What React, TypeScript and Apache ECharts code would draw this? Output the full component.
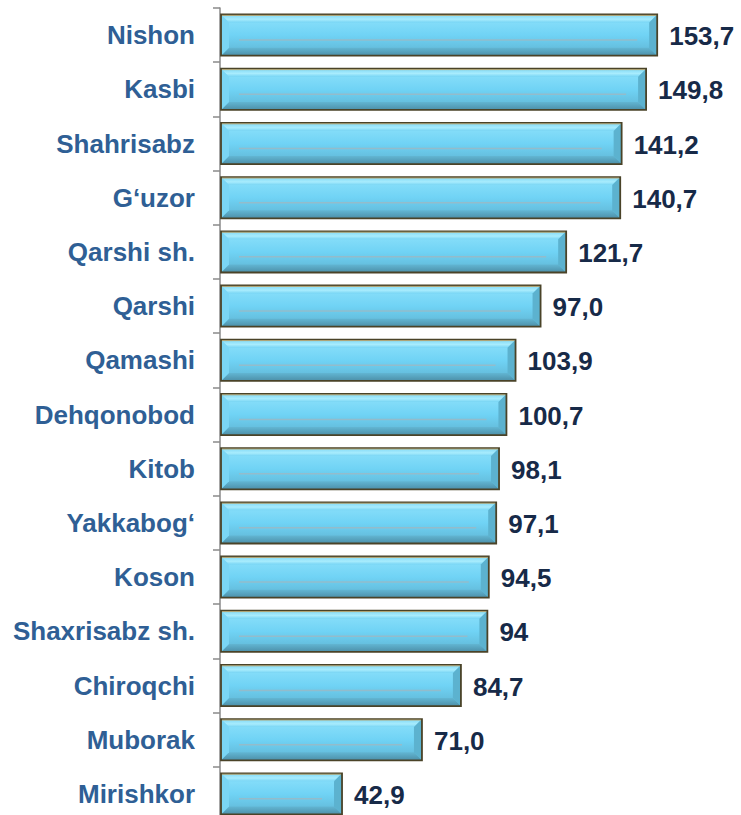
import React, { useEffect, useRef } from "react";
import * as echarts from "echarts";

const categories = [
  "Nishon",
  "Kasbi",
  "Shahrisabz",
  "G‘uzor",
  "Qarshi sh.",
  "Qarshi",
  "Qamashi",
  "Dehqonobod",
  "Kitob",
  "Yakkabog‘",
  "Koson",
  "Shaxrisabz sh.",
  "Chiroqchi",
  "Muborak",
  "Mirishkor",
];
// bar lengths as drawn in the reference
const values = [153.7, 149.8, 141.2, 140.7, 121.7, 112.7, 103.9, 100.7, 98.1, 97.1, 94.5, 94, 84.7, 71.0, 42.9];
// printed value labels
const valueLabels = ["153,7", "149,8", "141,2", "140,7", "121,7", "97,0", "103,9", "100,7", "98,1", "97,1", "94,5", "94", "84,7", "71,0", "42,9"];

export default function App() {
  const ref = useRef<HTMLDivElement>(null);
  useEffect(() => {
    if (!ref.current) return;
    const chart = echarts.init(ref.current, undefined, { renderer: "svg" });
    const font = '"Liberation Sans", Arial, sans-serif';
    chart.setOption({
      animation: false,
      grid: { left: 220, right: 9, top: 8, bottom: 9 },
      xAxis: { type: "value", min: 0, max: 180, show: false },
      yAxis: {
        type: "category",
        data: categories,
        inverse: true,
        axisLine: { show: true, lineStyle: { color: "#8a8a8a", width: 1.5 } },
        axisTick: { show: true, length: 7, lineStyle: { color: "#8a8a8a", width: 1.5 } },
        axisLabel: {
          margin: 25,
          color: "#2f5f95",
          fontSize: 26,
          fontWeight: "bold",
          fontFamily: font,
        },
      },
      series: [
        {
          type: "custom",
          clip: false,
          encode: { x: 0, y: 1 },
          data: values.map((v, i) => [v, i]),
          renderItem: (params: any, api: any) => {
            const val = api.value(0);
            const idx = api.value(1);
            const start = api.coord([0, idx]);
            const end = api.coord([val, idx]);
            const bandH = api.size([0, 1])[1];
            const h = bandH * 0.76;
            const x = start[0] + 1;
            const y = start[1] - h / 2;
            const w = end[0] - start[0] - 1;
            const b = 8;
            const children: any[] = [
              {
                type: "rect",
                shape: { x, y, width: w, height: h },
                style: {
                  fill: new echarts.graphic.LinearGradient(0, 0, 0, 1, [
                    { offset: 0, color: "#8fe2fb" },
                    { offset: 0.5, color: "#70d3f5" },
                    { offset: 1, color: "#5fb4d2" },
                  ]),
                },
              },
              {
                type: "polygon",
                shape: { points: [[x, y], [x + w, y], [x + w - b, y + b], [x + b, y + b]] },
                style: {
                  fill: new echarts.graphic.LinearGradient(0, 0, 0, 1, [
                    { offset: 0, color: "#7fd8f6" },
                    { offset: 0.6, color: "#a8ecfd" },
                    { offset: 1, color: "#78d5f4" },
                  ]),
                },
              },
              {
                type: "polygon",
                shape: { points: [[x, y + h], [x + w, y + h], [x + w - b, y + h - b], [x + b, y + h - b]] },
                style: {
                  fill: new echarts.graphic.LinearGradient(0, 0, 0, 1, [
                    { offset: 0, color: "#62b6d3" },
                    { offset: 1, color: "#4c8fa8" },
                  ]),
                },
              },
              {
                type: "polygon",
                shape: { points: [[x, y], [x + b, y + b], [x + b, y + h - b], [x, y + h]] },
                style: { fill: "#7ad6f4" },
              },
              {
                type: "polygon",
                shape: { points: [[x + w, y], [x + w - b, y + b], [x + w - b, y + h - b], [x + w, y + h]] },
                style: { fill: "#5cb2cf" },
              },
              {
                type: "line",
                shape: { x1: x + 18, y1: y + h * 0.62, x2: x + w - 20, y2: y + h * 0.62 },
                style: { stroke: "#93bccb", lineWidth: 1.5 },
              },
              {
                type: "rect",
                shape: { x, y, width: w, height: h },
                style: { fill: "none", stroke: "#4a4328", lineWidth: 1.8 },
              },
              {
                type: "line",
                shape: { x1: x + 1, y1: y + 0.9, x2: x + w - 1, y2: y + 0.9 },
                style: { stroke: "#b5a776", lineWidth: 1 },
              },
              {
                type: "text",
                x: end[0] + 12,
                y: start[1] + 1,
                style: {
                  text: valueLabels[idx],
                  fill: "#172a48",
                  font: `bold 26px ${font}`,
                  align: "left",
                  verticalAlign: "middle",
                },
              },
            ];
            return { type: "group", children };
          },
        },
      ],
    });
    return () => chart.dispose();
  }, []);
  return (
    <div style={{ position: "fixed", left: 0, top: 0, width: 741, height: 815, overflow: "hidden", background: "#fff" }}>
      <div ref={ref} style={{ width: 741, height: 830 }} />
    </div>
  );
}
